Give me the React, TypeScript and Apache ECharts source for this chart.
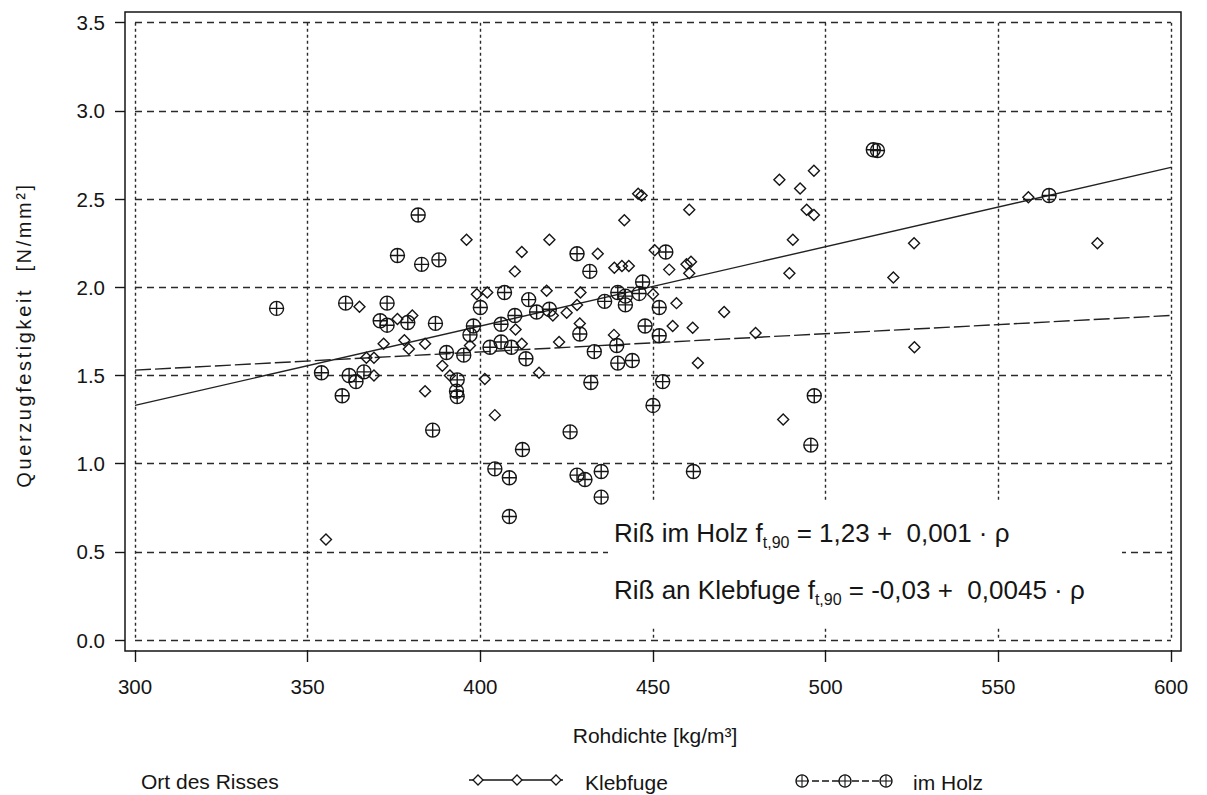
import React, { useEffect, useRef } from "react";
import * as echarts from "echarts";

const FONT = "'Liberation Sans', Arial, Helvetica, sans-serif";
const INK = "#151515";

// axis ticks
const xTicks = [300, 350, 400, 450, 500, 550, 600];
const yTickLabels = ["0.0", "0.5", "1.0", "1.5", "2.0", "2.5", "3.0", "3.5"];

// Riß an Klebfuge (diamonds): [Rohdichte, Querzugfestigkeit]
const klebfuge: [number, number][] = [
  [355.3, 0.57], [396, 2.27], [399, 1.96], [365, 1.89], [376, 1.82], [380.3, 1.84],
  [397, 1.67], [372, 1.68], [378, 1.7], [379.3, 1.65], [384, 1.68], [367, 1.6],
  [369.2, 1.6], [389, 1.555], [369.2, 1.5], [391.2, 1.5], [384, 1.41], [445.7, 2.53],
  [446.7, 2.52], [460.5, 2.44], [441.7, 2.38], [420, 2.27], [412, 2.2], [434, 2.19],
  [450.5, 2.21], [410, 2.09], [438.8, 2.11], [441, 2.12], [443, 2.12], [454.7, 2.1],
  [459.7, 2.13], [461, 2.145], [460.5, 2.08], [402, 1.97], [419.2, 1.98], [429, 1.97],
  [421, 1.84], [425, 1.855], [428, 1.9], [450, 1.96], [456.8, 1.91], [410.2, 1.76],
  [428.8, 1.795], [455.7, 1.78], [461.5, 1.77], [438.7, 1.73], [412, 1.68], [422.8, 1.69],
  [401.3, 1.48], [417, 1.515], [463, 1.57], [404.2, 1.275], [490.5, 2.27], [525.6, 2.25],
  [489.5, 2.08], [519.6, 2.055], [470.6, 1.86], [479.7, 1.74], [525.7, 1.66], [487.7, 1.25],
  [558.7, 2.51], [578.7, 2.25], [496.6, 2.66], [486.6, 2.61], [492.6, 2.56], [494.5, 2.44],
  [496.6, 2.41]
];

// Riß im Holz (circle with cross)
const imHolz: [number, number][] = [
  [382, 2.41], [376, 2.18], [383, 2.13], [388, 2.155], [400, 1.885], [341, 1.88],
  [361, 1.91], [373, 1.91], [371, 1.81], [373, 1.785], [379, 1.8], [387, 1.795],
  [398, 1.78], [397, 1.73], [390.2, 1.63], [395.2, 1.615], [354, 1.515], [362, 1.5],
  [366.3, 1.52], [364, 1.465], [393.3, 1.475], [393.1, 1.41], [393.3, 1.38], [360, 1.385],
  [386.2, 1.19], [428, 2.19], [453.7, 2.2], [431.7, 2.09], [407, 1.97], [414, 1.93],
  [410, 1.84], [416.3, 1.86], [420, 1.875], [436, 1.92], [439.8, 1.97], [442, 1.95],
  [442, 1.9], [446, 1.965], [447, 2.03], [451.8, 1.885], [406, 1.79], [428.8, 1.735],
  [447.7, 1.78], [439.5, 1.67], [451.8, 1.725], [406, 1.69], [402.8, 1.66], [409, 1.66],
  [433, 1.635], [413.2, 1.595], [439.8, 1.57], [444, 1.585], [432, 1.46], [452.8, 1.465],
  [450, 1.33], [426, 1.18], [412.2, 1.08], [404.2, 0.97], [408.4, 0.92], [428, 0.935],
  [430.3, 0.91], [435, 0.955], [435, 0.81], [408.4, 0.7], [461.7, 0.955], [496.7, 1.385],
  [495.7, 1.105], [564.7, 2.52], [513.8, 2.78], [515, 2.775]
];

// regression lines (end points)
const klebfugeFit: [number, number][] = [[300, 1.33], [600, 2.68]];
const imHolzFit: [number, number][] = [[300, 1.53], [600, 1.84]];

const seriesNames = ["Klebfuge", "im Holz"];
const legendTitle = "Ort des Risses";
const xTitle = "Rohdichte [kg/m³]";
const yTitle = "Querzugfestigkeit  [N/mm²]";
const eq1 = ["Riß im Holz f", "t,90", " = 1,23 +  0,001 · ρ"];
const eq2 = ["Riß an Klebfuge f", "t,90", " = -0,03 +  0,0045 · ρ"];

const CROSS_CIRCLE =
  "path://M10,0 A10,10 0 1,1 10,20 A10,10 0 1,1 10,0 Z M0,10 L20,10 M10,0 L10,20";

function diamond(cx: number, cy: number, r: number) {
  return {
    type: "polygon",
    shape: { points: [[cx, cy - r], [cx + r, cy], [cx, cy + r], [cx - r, cy]] },
    style: { fill: "#fff", stroke: INK, lineWidth: 1.3 },
    z: 6,
  };
}
function crossCircle(cx: number, cy: number, r: number) {
  return [
    { type: "circle", shape: { cx, cy, r }, style: { fill: "#fff", stroke: INK, lineWidth: 1.3 }, z: 6 },
    { type: "line", shape: { x1: cx - r, y1: cy, x2: cx + r, y2: cy }, style: { stroke: INK, lineWidth: 1.1 }, z: 7 },
    { type: "line", shape: { x1: cx, y1: cy - r, x2: cx, y2: cy + r }, style: { stroke: INK, lineWidth: 1.1 }, z: 7 },
  ];
}

function eqRich(parts: string[]) {
  return `{a|${parts[0]}}{b|${parts[1]}}{a|${parts[2]}}`;
}

export default function App() {
  const ref = useRef<HTMLDivElement>(null);
  useEffect(() => {
    if (!ref.current) return;
    const chart = echarts.init(ref.current, undefined, { renderer: "svg" });
    const richStyle = {
      a: { fontSize: 26, fontFamily: FONT, fill: INK, lineHeight: 34 },
      b: { fontSize: 16, fontFamily: FONT, fill: INK, lineHeight: 16, verticalAlign: "bottom" },
    };
    const option: any = {
      animation: false,
      backgroundColor: "#fff",
      textStyle: { fontFamily: FONT },
      grid: { left: 135, right: 36, top: 22.7, bottom: 155, containLabel: false },
      xAxis: {
        type: "value",
        min: xTicks[0],
        max: xTicks[xTicks.length - 1],
        interval: 50,
        offset: 10,
        axisLine: { show: false, onZero: false },
        axisTick: { show: true, length: 12, lineStyle: { color: INK, width: 1.4 } },
        axisLabel: { fontSize: 20.5, color: INK, margin: 26, fontFamily: FONT },
        splitLine: { show: true, lineStyle: { type: [3, 3], color: "#2a2a2a", width: 1.4 } },
      },
      yAxis: {
        type: "value",
        min: 0,
        max: 3.5,
        interval: 0.5,
        offset: 10,
        axisLine: { show: false, onZero: false },
        axisTick: { show: true, length: 10, lineStyle: { color: INK, width: 1.4 } },
        axisLabel: {
          fontSize: 20.5,
          color: INK,
          margin: 20,
          fontFamily: FONT,
          formatter: (v: number) => yTickLabels[Math.round(v / 0.5)],
        },
        splitLine: { show: true, lineStyle: { type: [7, 5], color: "#2a2a2a", width: 1.4 } },
      },
      series: [
        {
          name: seriesNames[0] + " Regression",
          type: "line",
          data: klebfugeFit,
          symbol: "none",
          z: 3,
          lineStyle: { color: "#222", width: 1.4, type: "solid" },
        },
        {
          name: seriesNames[1] + " Regression",
          type: "line",
          data: imHolzFit,
          symbol: "none",
          z: 3,
          lineStyle: { color: "#222", width: 1.4, type: [16, 4] },
        },
        {
          name: seriesNames[0],
          type: "scatter",
          data: klebfuge,
          symbol: "diamond",
          symbolSize: 11,
          z: 4,
          itemStyle: { color: "rgba(0,0,0,0)", borderColor: INK, borderWidth: 1.4, opacity: 1 },
        },
        {
          name: seriesNames[1],
          type: "scatter",
          data: imHolz,
          symbol: CROSS_CIRCLE,
          symbolSize: 14,
          z: 4,
          itemStyle: { color: "rgba(0,0,0,0)", borderColor: INK, borderWidth: 1.4, opacity: 1 },
        },
      ],
      graphic: [
        // frame
        {
          type: "rect",
          shape: { x: 125, y: 12, width: 1056, height: 639 },
          style: { fill: "none", stroke: INK, lineWidth: 1.5 },
          z: 5,
          silent: true,
        },
        // white box behind the equations
        {
          type: "rect",
          shape: { x: 608, y: 500, width: 514, height: 126 },
          style: { fill: "#fff" },
          z: 1,
          silent: true,
        },
        {
          type: "text",
          x: 614,
          y: 533,
          z: 6,
          style: { text: eqRich(eq1), rich: richStyle, verticalAlign: "middle", align: "left" },
        },
        {
          type: "text",
          x: 614,
          y: 590,
          z: 6,
          style: { text: eqRich(eq2), rich: richStyle, verticalAlign: "middle", align: "left" },
        },
        // axis titles
        {
          type: "text",
          x: 655,
          y: 735,
          z: 6,
          style: { text: xTitle, fontSize: 21, fontFamily: FONT, fill: INK, align: "center", verticalAlign: "middle" },
        },
        {
          type: "text",
          x: 24,
          y: 335,
          rotation: Math.PI / 2,
          z: 6,
          style: { text: yTitle, fontSize: 20, fontFamily: FONT, fill: INK, align: "center", verticalAlign: "middle" },
        },
        // legend
        {
          type: "text",
          x: 141,
          y: 781,
          z: 6,
          style: { text: legendTitle, fontSize: 21, fontFamily: FONT, fill: INK, align: "left", verticalAlign: "middle" },
        },
        {
          type: "line",
          shape: { x1: 469, y1: 780, x2: 563, y2: 780 },
          style: { stroke: INK, lineWidth: 1.3 },
          z: 5,
        },
        diamond(478, 780, 5),
        diamond(517, 780, 5),
        diamond(556, 780, 5),
        {
          type: "text",
          x: 585,
          y: 782,
          z: 6,
          style: { text: seriesNames[0], fontSize: 21, fontFamily: FONT, fill: INK, align: "left", verticalAlign: "middle" },
        },
        {
          type: "line",
          shape: { x1: 802, y1: 781, x2: 886, y2: 781 },
          style: { stroke: INK, lineWidth: 1.3, lineDash: [7, 3] },
          z: 5,
        },
        ...crossCircle(802, 781, 6),
        ...crossCircle(845, 781, 6),
        ...crossCircle(886, 781, 6),
        {
          type: "text",
          x: 913,
          y: 782,
          z: 6,
          style: { text: seriesNames[1], fontSize: 21, fontFamily: FONT, fill: INK, align: "left", verticalAlign: "middle" },
        },
      ],
    };
    chart.setOption(option);
    // spaced lettering of the vertical axis title, as in the original
    const texts = ref.current.querySelectorAll("text");
    texts.forEach((t) => {
      if ((t.textContent || "").indexOf("Querzug") === 0) {
        t.setAttribute("letter-spacing", "2.6");
      }
    });
    return () => chart.dispose();
  }, []);
  return (
    <div
      ref={ref}
      style={{ position: "fixed", left: 0, top: 0, width: 1207, height: 795, background: "#fff" }}
    />
  );
}
